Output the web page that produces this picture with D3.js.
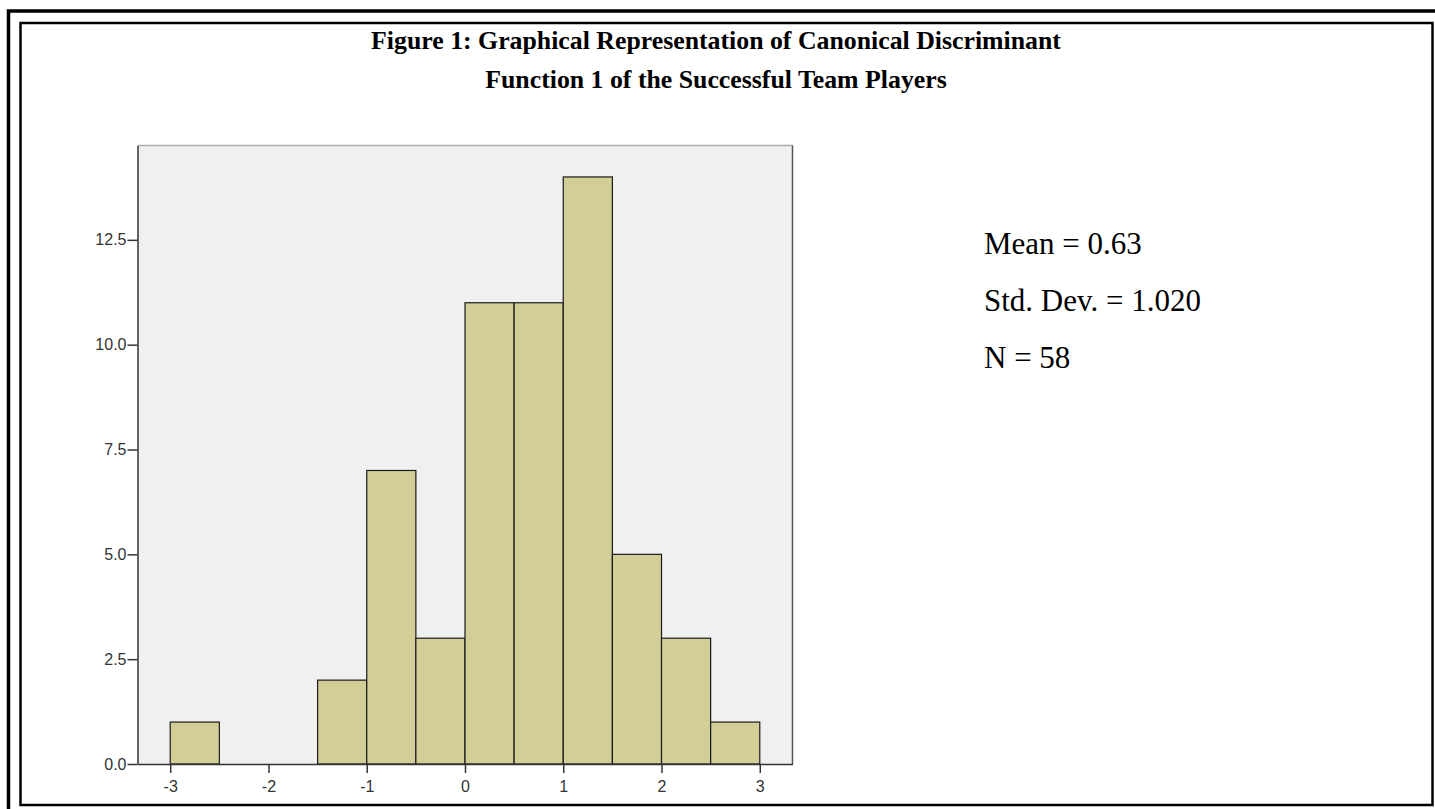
<!DOCTYPE html>
<html>
<head>
<meta charset="utf-8">
<script src="https://cdn.jsdelivr.net/npm/d3@7"></script>
<style>
  body { margin: 0; background: #fff; }
  svg { display: block; }
  .tick text { font-family: "Liberation Sans", Arial, sans-serif; fill: #333; }
</style>
</head>
<body>
<svg width="1435" height="809"></svg>
<script>
// Histogram bins (lower edge) and counts, bin width 0.5
const binStarts = [-3, -2.5, -2, -1.5, -1, -0.5, 0, 0.5, 1, 1.5, 2, 2.5];
const counts = [1, 0, 0, 2, 7, 3, 11, 11, 14, 5, 3, 1];
const binWidth = 0.5;
const yTicks = [0, 2.5, 5, 7.5, 10, 12.5];
const xTicks = [-3, -2, -1, 0, 1, 2, 3];
const titleLines = ["Figure 1: Graphical Representation of Canonical Discriminant",
                    "Function 1 of the Successful Team Players"];
const statLines = ["Mean = 0.63", "Std. Dev. = 1.020", "N = 58"];

const svg = d3.select("svg"),
    margin = { top: 145.5, left: 137.5 },
    width = 655,
    height = 618.5,
    g = svg.append("g").attr("transform", `translate(${margin.left},${margin.top})`);

// double page border
svg.append("rect")
    .attr("x", 8.5).attr("y", 11)
    .attr("width", 1500).attr("height", 900)
    .attr("fill", "none").attr("stroke", "#000").attr("stroke-width", 3.5);
svg.append("rect")
    .attr("x", 20.5).attr("y", 23)
    .attr("width", 1412).attr("height", 782)
    .attr("fill", "none").attr("stroke", "#000").attr("stroke-width", 2.5);

// title
svg.selectAll(".title")
    .data(titleLines)
    .enter().append("text")
    .attr("class", "title")
    .attr("x", 716)
    .attr("y", (d, i) => 49 + i * 39)
    .attr("text-anchor", "middle")
    .attr("font-family", "'Liberation Serif', 'Times New Roman', serif")
    .attr("font-weight", "bold")
    .attr("font-size", "25.8px")
    .text(d => d);

const x = d3.scaleLinear().domain([-3.333, 3.333]).range([0, width]);
const y = d3.scaleLinear().domain([0, 14.75]).range([height, 0]);

// plot background
g.append("rect")
    .attr("width", width).attr("height", height)
    .attr("fill", "#f0f0f0");

// bars
g.selectAll(".bar")
    .data(binStarts.map((s, i) => ({ s, c: counts[i] })).filter(d => d.c > 0))
    .enter().append("rect")
    .attr("class", "bar")
    .attr("x", d => x(d.s))
    .attr("y", d => y(d.c))
    .attr("width", d => x(d.s + binWidth) - x(d.s))
    .attr("height", d => y(0) - y(d.c))
    .attr("fill", "#d3ce98")
    .attr("stroke", "#1a1a1a")
    .attr("stroke-width", 1.2);

// frame
g.append("path")
    .attr("d", `M0,0H${width}`)
    .attr("stroke", "#aaa").attr("stroke-width", 1.5);
g.append("path")
    .attr("d", `M${width},0V${height}`)
    .attr("stroke", "#555").attr("stroke-width", 1.5);

// axes
const yAxis = g.append("g")
    .call(d3.axisLeft(y).tickValues(yTicks).tickFormat(d3.format(".1f")).tickSize(10).tickSizeOuter(0));
const xAxis = g.append("g")
    .attr("transform", `translate(0,${height})`)
    .call(d3.axisBottom(x).tickValues(xTicks).tickFormat(d => String(d)).tickSize(9).tickSizeOuter(0));

[yAxis, xAxis].forEach(a => {
    a.select(".domain").attr("stroke", "#333").attr("stroke-width", 1.5);
    a.selectAll(".tick line").attr("stroke", "#333").attr("stroke-width", 1.5);
    a.selectAll(".tick text").attr("font-size", "16px");
});
yAxis.selectAll(".tick text").attr("x", -11);
xAxis.selectAll(".tick text").attr("y", 15).attr("dy", "0.8em");

// summary statistics
svg.selectAll(".stat")
    .data(statLines)
    .enter().append("text")
    .attr("class", "stat")
    .attr("x", 984)
    .attr("y", (d, i) => 254 + i * 57)
    .attr("font-family", "'Liberation Serif', 'Times New Roman', serif")
    .attr("font-size", "31px")
    .text(d => d);
</script>
</body>
</html>
